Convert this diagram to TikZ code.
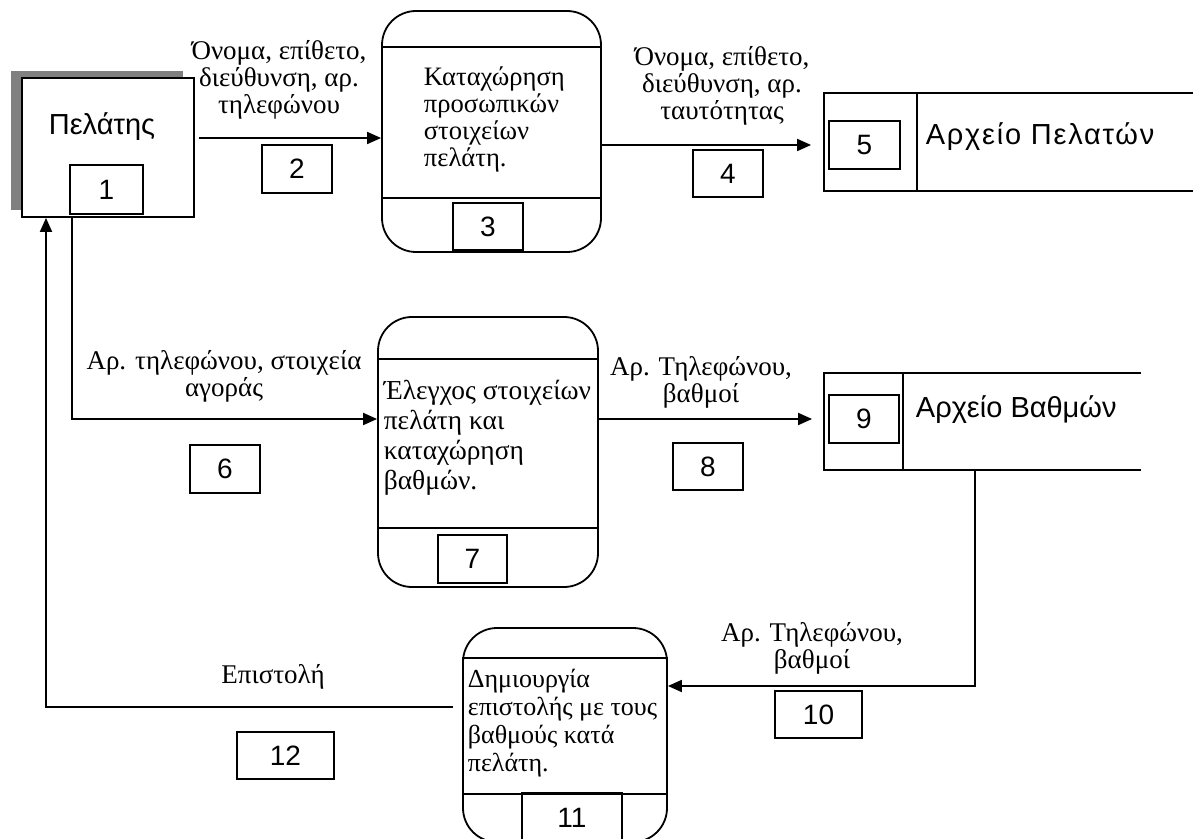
\documentclass[tikz,border=0pt]{standalone}
\usepackage{fontspec}
\setmainfont{Liberation Serif}
\setsansfont{Liberation Sans}
\usetikzlibrary{arrows.meta,positioning,shadows}

\begin{document}
\begin{tikzpicture}[x=0.5pt,y=-0.5pt,line width=0.9pt,>={Triangle[length=7pt,width=6pt]},every node/.style={inner sep=0pt}]
	\tikzstyle{proc}=[draw,rectangle,rounded corners=17pt]
	\tikzstyle{numbox}=[draw,rectangle,minimum width=35pt,minimum height=24pt,font=\sffamily\fontsize{14}{16}\selectfont]
	\tikzstyle{flowtext}=[align=center,font=\fontsize{13.5}{13.5}\selectfont]
	\tikzstyle{proctext}=[align=left,anchor=north west,font=\fontsize{13.5}{14}\selectfont]
	\tikzstyle{storetext}=[anchor=base west,font=\sffamily\fontsize{14.5}{16}\selectfont]
	\tikzstyle{store}=[rectangle]
	
	\useasboundingbox (0,0) rectangle (1193,839);
	
	% external entity
	\node[draw,fill=white,minimum width=86pt,minimum height=69.5pt,drop shadow={shadow xshift=-5.5pt,shadow yshift=3.5pt,fill=black!50,opacity=1}] (PEL) at (108,147.5) {};
	\node[anchor=base,font=\sffamily\fontsize{14.5}{16}\selectfont] (PELNAME) at (102,135) {Πελάτης};
	\node[numbox,minimum width=36.5pt,minimum height=24.5pt] (N1) at (106.5,189.5) {1};
	
	% processes
	\node[proc,minimum width=109.5pt,minimum height=120.5pt] (P3) at (491.5,131.5) {};
	\draw ([yshift=-18.5pt]P3.north west) -- ([yshift=-18.5pt]P3.north east);
	\draw ([yshift=27.5pt]P3.south west) -- ([yshift=27.5pt]P3.south east);
	\node[proctext,font=\fontsize{13.3}{13.5}\selectfont] (P3TEXT) at (423,66) {Καταχώρηση\\προσωπικών\\στοιχείων\\πελάτη.};
	\node[numbox,minimum height=23.5pt] (N3) at (488,226.5) {3};
	
	\node[proc,minimum width=110pt,minimum height=135pt] (P7) at (488,452) {};
	\draw ([yshift=-21.5pt]P7.north west) -- ([yshift=-21.5pt]P7.north east);
	\draw ([yshift=30pt]P7.south west) -- ([yshift=30pt]P7.south east);
	\node[proctext,font=\fontsize{13.7}{15}\selectfont] (P7TEXT) at (383,379) {Έλεγχος στοιχείων\\πελάτη και\\καταχώρηση\\βαθμών.};
	\node[numbox,minimum width=34.5pt] (N7) at (472.5,559) {7};
	
	\node[proc,minimum width=102pt,minimum height=107pt] (P11) at (565,735) {};
	\draw ([yshift=-15.5pt]P11.north west) -- ([yshift=-15.5pt]P11.north east);
	\draw ([yshift=24.5pt]P11.south west) -- ([yshift=24.5pt]P11.south east);
	\node[proctext,font=\fontsize{13}{14}\selectfont] (P11TEXT) at (467,668) {Δημιουργία\\επιστολής με τους\\βαθμούς κατά\\πελάτη.};
	\node[numbox,minimum width=50pt,minimum height=24.5pt] (N11) at (572,817.5) {11};
	
	% data stores
	\node[store,minimum width=184pt,minimum height=48pt] (S5) at (1009,142) {};
	\draw (S5.north east) -- (S5.north west) -- (S5.south west) -- (S5.south east);
	\draw ([xshift=46.5pt]S5.north west) -- ([xshift=46.5pt]S5.south west);
	\node[numbox,minimum width=35.5pt] (N5) at (864.5,145) {5};
	\node[storetext] (S5TEXT) at (925,145) {\addfontfeatures{LetterSpace=6}Αρχείο Πελατών};
	
	\node[store,minimum width=157.5pt,minimum height=47.5pt] (S9) at (982.5,421.5) {};
	\draw (S9.north east) -- (S9.north west) -- (S9.south west) -- (S9.south east);
	\draw ([xshift=39.5pt]S9.north west) -- ([xshift=39.5pt]S9.south west);
	\node[numbox] (N9) at (864,419) {9};
	\node[storetext] (S9TEXT) at (915,417) {Αρχείο Βαθμών};
	
	% flows
	\draw[->,shorten <=2pt] (PEL.east |- 0,138) -- (P3.west |- 0,138);
	\node[flowtext] (L2) at (279,80) {Όνομα, επίθετο,\\διεύθυνση, αρ.\\τηλεφώνου};
	\node[numbox] (N2) at (297,169) {2};
	
	\draw[->,shorten >=6.5pt] (P3.east |- 0,145) -- (S5.west |- 0,145);
	\node[flowtext] (L4) at (722,86) {Όνομα, επίθετο,\\διεύθυνση, αρ.\\ταυτότητας};
	\node[numbox,minimum height=23.5pt] (N4) at (728,173.5) {4};
	
	\draw[->] (PEL.south -| 72,0) |- (P7.west |- 0,419);
	\node[flowtext] (L6) at (224,376) {Αρ. τηλεφώνου, στοιχεία\\αγοράς};
	\node[numbox] (N6) at (225,469) {6};
	
	\draw[->,shorten >=6pt] (P7.east |- 0,419) -- (S9.west |- 0,419);
	\node[flowtext] (L8) at (701,382) {Αρ. Τηλεφώνου,\\βαθμοί};
	\node[numbox,minimum height=23.5pt] (N8) at (708,466.5) {8};
	
	\draw[->] (S9.south -| 975,0) |- (P11.east |- 0,686);
	\node[flowtext] (L10) at (812,648) {Αρ. Τηλεφώνου,\\βαθμοί};
	\node[numbox,minimum width=43.5pt,minimum height=23.5pt] (N10) at (818.5,714.5) {10};
	
	\draw[->,shorten <=4.5pt] (P11.west |- 0,707) -| (PEL.south -| 46,0);
	\node[flowtext] (L12) at (273,677) {Επιστολή};
	\node[numbox,minimum width=48.5pt,minimum height=23.5pt] (N12) at (285.5,755.5) {12};
\end{tikzpicture}
\end{document}
